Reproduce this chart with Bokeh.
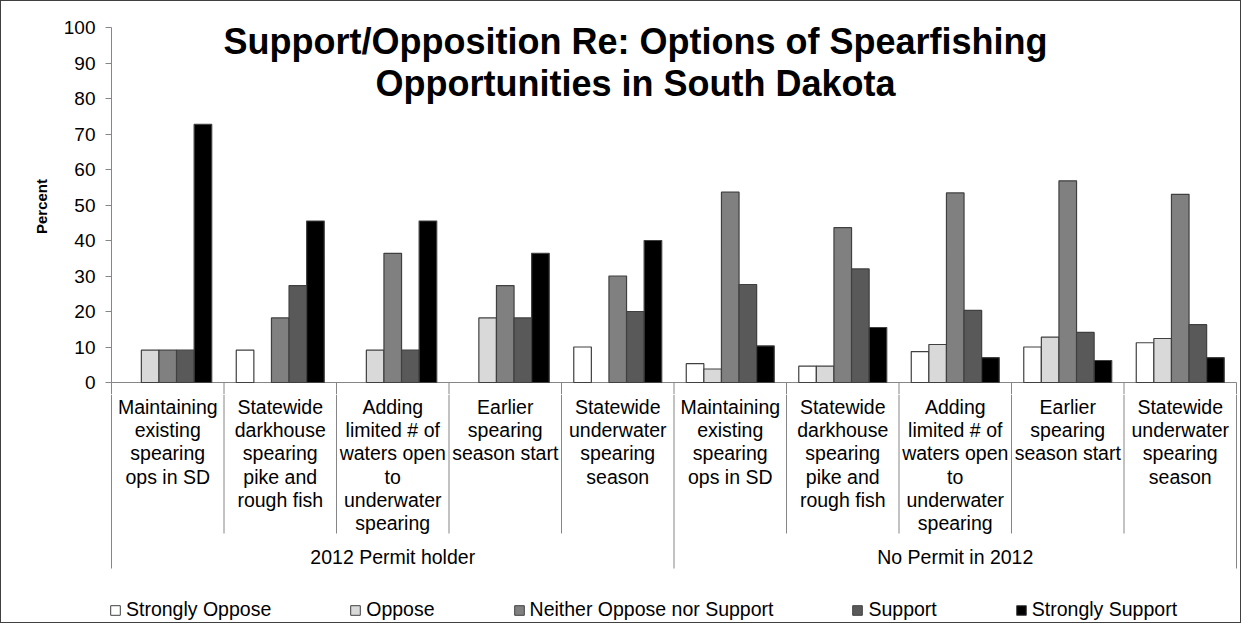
import numpy as np
from bokeh.plotting import figure
from bokeh.models import Range1d, FixedTicker, Label, Legend, LegendItem, ColumnDataSource
from bokeh.layouts import column
from bokeh.embed import file_html
from bokeh.resources import INLINE
from bokeh.core.properties import value

# ---------------- data ----------------
title_lines = ["Support/Opposition Re: Options of Spearfishing",
               "Opportunities in South Dakota"]
groups = ["2012 Permit holder", "No Permit in 2012"]
questions = [
    "Maintaining\nexisting\nspearing\nops in SD",
    "Statewide\ndarkhouse\nspearing\npike and\nrough fish",
    "Adding\nlimited # of\nwaters open\nto\nunderwater\nspearing",
    "Earlier\nspearing\nseason start",
    "Statewide\nunderwater\nspearing\nseason",
]
series_names = ["Strongly Oppose", "Oppose", "Neither Oppose nor Support",
                "Support", "Strongly Support"]
strongly_oppose = [0, 9.1, 0, 0, 10.0, 5.3, 4.6, 8.7, 10.0, 11.2]
oppose = [9.1, 0, 9.1, 18.2, 0, 3.8, 4.6, 10.7, 12.8, 12.4]
neither = [9.1, 18.2, 36.4, 27.3, 30.0, 53.6, 43.6, 53.4, 56.8, 53.0]
support = [9.1, 27.3, 9.1, 18.2, 20.0, 27.6, 32.0, 20.3, 14.1, 16.3]
strongly_support = [72.7, 45.5, 45.5, 36.4, 40.0, 10.3, 15.5, 7.0, 6.2, 7.0]
y_ticks = list(range(0, 101, 10))
y_label = "Percent"

series_values = [strongly_oppose, oppose, neither, support, strongly_support]
series_colors = ["#ffffff", "#d9d9d9", "#808080", "#595959", "#000000"]
edge = "#404040"
axis_gray = "#868686"
FONT = "Liberation Sans"

n_cat = len(groups) * len(questions)
cat_labels = [q for g in groups for q in questions]

# ---------------- geometry (px) ----------------
W = 1239
H1 = 393
H2 = 228
L1 = 107          # plot frame left
R = 3
X0 = 110          # category axis start
PX_CAT = 112.5    # px per category
PX_Y = 3.55       # px per percent
Y0 = 381          # y=0
TOP = 17

x_start = (L1 - X0) / PX_CAT
x_end = x_start + (W - L1 - R) / PX_CAT
y1_start = -(H1 - Y0) / PX_Y
y1_end = (Y0 - TOP) / PX_Y
xr = Range1d(x_start, x_end)

# ---------------- top figure: bars ----------------
p = figure(width=W, height=H1, x_range=xr, y_range=Range1d(y1_start, y1_end),
           min_border_left=L1, min_border_right=R, min_border_top=TOP,
           min_border_bottom=0, x_axis_location=None, y_axis_location="left",
           toolbar_location=None, tools="", output_backend="svg")
p.outline_line_color = None
p.grid.visible = False

ax = p.yaxis[0]
ax.ticker = FixedTicker(ticks=y_ticks)
ax.axis_line_color = None
ax.major_tick_line_color = axis_gray
ax.major_tick_out = 3
ax.major_tick_in = 3
ax.minor_tick_line_color = None
ax.major_label_standoff = 10
ax.major_label_text_font = FONT
ax.major_label_text_font_size = "19px"
ax.major_label_text_color = "black"
ax.axis_label = y_label
ax.axis_label_text_font = FONT
ax.axis_label_text_font_style = "bold"
ax.axis_label_text_font_size = "15px"
ax.axis_label_text_color = "black"
ax.axis_label_standoff = 11

# axis lines and category tick marks
p.segment(x0=[0], y0=[y_ticks[0]], x1=[0], y1=[y_ticks[-1]], line_color=axis_gray, line_width=1)
p.segment(x0=[0], y0=[0], x1=[n_cat], y1=[0], line_color=axis_gray, line_width=1)
bounds = np.arange(n_cat + 1)
p.segment(x0=bounds, y0=np.zeros(n_cat + 1), x1=bounds, y1=np.full(n_cat + 1, y1_start),
          line_color=axis_gray, line_width=1)

nser = len(series_values)
bar_w = 0.1564
idx = np.arange(n_cat)
for k, (vals, col) in enumerate(zip(series_values, series_colors)):
    vals = np.asarray(vals, dtype=float)
    xs = idx + 0.5 + (k - (nser - 1) / 2) * bar_w
    keep = vals > 0
    src = ColumnDataSource(dict(x=xs[keep], top=vals[keep]))
    p.vbar(x="x", top="top", bottom=0, width=bar_w, source=src,
           fill_color=col, line_color=edge, line_width=1.2)

title_x = (634 - X0) / PX_CAT
for line, py in zip(title_lines, [39.5, 82.0]):
    p.add_layout(Label(x=title_x, y=(Y0 - py) / PX_Y, text=line, text_align="center",
                       text_baseline="middle", text_font=FONT, text_font_style="bold",
                       text_font_size="36px", text_color="black"))

# ---------------- bottom figure: category labels + legend ----------------
q = figure(width=W, height=H2, x_range=xr, y_range=Range1d(H2, 0),
           min_border_left=L1, min_border_right=R, min_border_top=0, min_border_bottom=0,
           x_axis_location=None, y_axis_location=None,
           toolbar_location=None, tools="", output_backend="svg")
q.outline_line_color = None
q.grid.visible = False

nq = len(questions)
outer = (bounds % nq) == 0
q.segment(x0=bounds, y0=np.zeros(n_cat + 1), x1=bounds, y1=np.where(outer, 174, 139),
          line_color=axis_gray, line_width=1)

q.text(x=idx + 0.5, y=np.full(n_cat, 1.5), text=cat_labels, text_align="center",
       text_baseline="top", text_font=value(FONT), text_font_size="19.5px",
       text_line_height=1.055, text_color="black")
gidx = np.arange(len(groups))
q.text(x=gidx * nq + nq / 2, y=np.full(len(groups), 162.0), text=groups, text_align="center",
       text_baseline="middle", text_font=value(FONT), text_font_size="19.5px", text_color="black")

items = []
for name, col in zip(series_names, series_colors):
    r = q.vbar(x=[np.nan], top=[np.nan], width=0.1, fill_color=col, line_color=edge, line_width=1)
    items.append(LegendItem(label=name, renderers=[r]))
legend = Legend(items=items, orientation="horizontal", location=(1, 1),
                glyph_width=12, glyph_height=12, label_standoff=5, spacing=78,
                padding=0, margin=0, border_line_color=None, background_fill_alpha=0,
                label_text_font=FONT, label_text_font_size="19.5px",
                label_text_baseline="middle", label_text_color="black")
q.add_layout(legend)

layout = column(p, q, spacing=0, styles={"border": "1px solid #404040"})

open("out.html", "w").write(file_html(layout, INLINE))
